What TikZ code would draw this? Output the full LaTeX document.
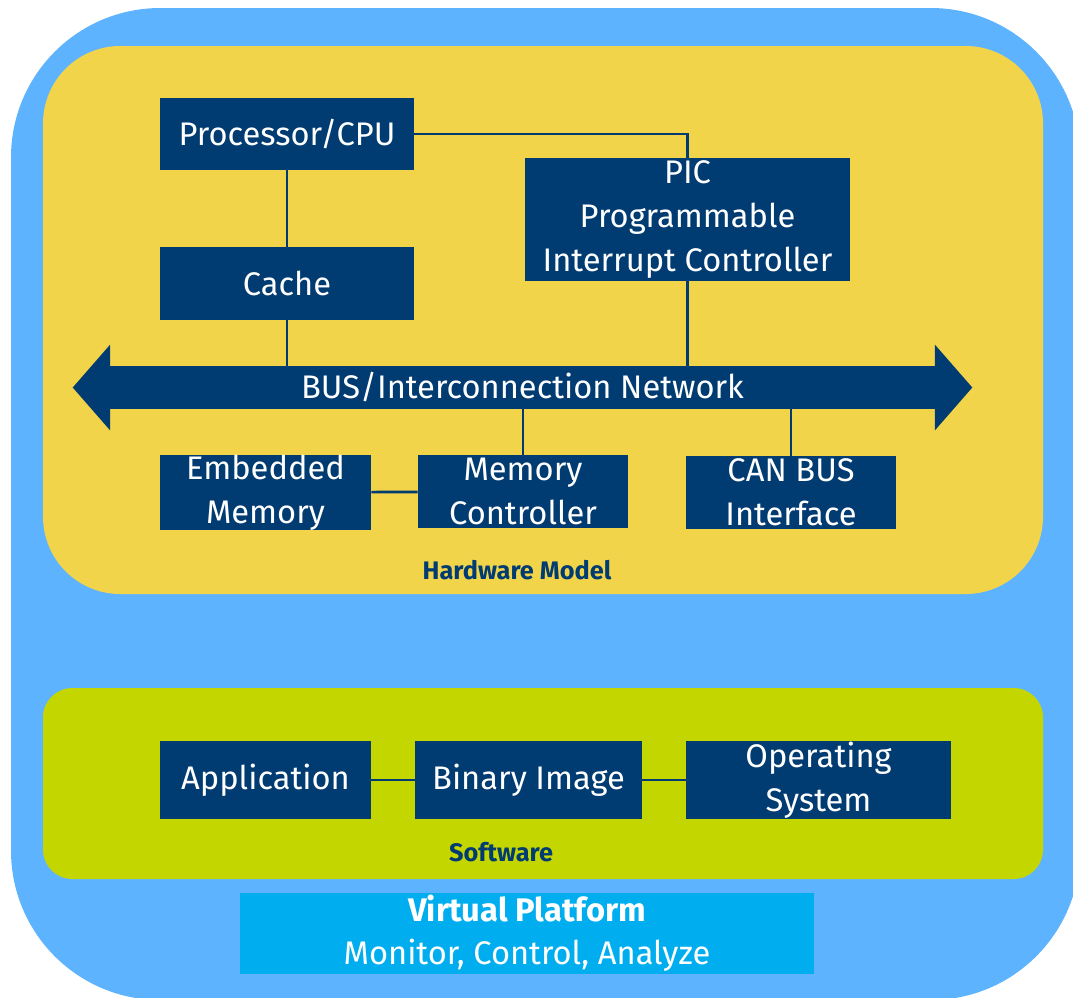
\documentclass[tikz,border=0pt]{standalone}
\usepackage{fontspec}
\setmainfont{Fira Sans}
\usepackage{xcolor}
\definecolor{cSky}{HTML}{5EB3FF}
\definecolor{cHw}{HTML}{F2D44B}
\definecolor{cSw}{HTML}{C4D600}
\definecolor{cVp}{HTML}{00AEEF}
\definecolor{cBox}{HTML}{003B71}
\usetikzlibrary{positioning,calc}
\tikzset{
  hw-box/.style={fill=cBox,text=white,align=center,inner sep=0pt,
    font=\fontsize{24.5}{33}\selectfont},
  vp-box/.style={fill=cVp,text=white,align=center,inner sep=0pt,
    font=\fontsize{24.5}{32}\selectfont},
  link/.style={draw=cBox,line width=2pt},
  layer-label/.style={text=cBox,font=\bfseries\fontsize{19}{22}\selectfont},
}
\begin{document}
\begin{tikzpicture}[x=0.75pt,y=-0.75pt]
  \useasboundingbox (0,0) rectangle (1073,997);
  \clip (0,0) rectangle (1073,997);
  % layers
  \fill[cSky,rounded corners=112pt] (11,8) rectangle (1080,1000);
  \fill[cHw,rounded corners=58pt] (43,46) rectangle (1043,594);
  \fill[cSw,rounded corners=22pt] (43,688) rectangle (1043,879);

  % hardware
  \node[hw-box,minimum width=190.5pt,minimum height=54pt] (cpu) at (287,134) {Processor/CPU};
  \node[hw-box,minimum width=190.5pt,minimum height=54.75pt] (cache) at (287,283.5) {Cache};
  \node[hw-box,minimum width=243.75pt,minimum height=92.25pt] (pic) at (687.5,219.5)
    {PIC\\Programmable\\Interrupt Controller};
  \node[hw-box,minimum width=618.75pt,minimum height=32.25pt] (bus) at (522.5,387.5)
    {BUS/Interconnection Network};
  \fill[cBox] ($(bus.west)+(0.5,-43)$) -- ($(bus.west)+(-37,0)$) -- ($(bus.west)+(0.5,43)$) -- cycle;
  \fill[cBox] ($(bus.east)+(-0.5,-43)$) -- ($(bus.east)+(37,0)$) -- ($(bus.east)+(-0.5,43)$) -- cycle;
  \node[hw-box,minimum width=158.25pt,minimum height=54.75pt] (emb) at (265.5,492.5) {Embedded\\Memory};
  \node[hw-box,minimum width=157.5pt,minimum height=54.75pt] (memctl) at (523,491.5) {Memory\\Controller};
  \node[hw-box,minimum width=157.5pt,minimum height=54.75pt] (can) at (791,492.5) {CAN BUS\\Interface};
  \node[layer-label] (hwlabel) at (517,570) {Hardware Model};

  \draw[link] (cpu) -- (cache);
  \draw[link] (cache) -- (cache.south |- bus.north);
  \draw[link] (cpu.east) -| (pic.north);
  \draw[link] (pic) -- (pic.south |- bus.north);
  \draw[link] (memctl) -- (memctl.north |- bus.south);
  \draw[link] (can) -- (can.north |- bus.south);
  \draw[link] (emb) -- (memctl);

  % software
  \node[hw-box,minimum width=158.25pt,minimum height=58.5pt] (app) at (265.5,780) {Application};
  \node[hw-box,minimum width=170.25pt,minimum height=58.5pt] (bin) at (528.5,780) {Binary Image};
  \node[hw-box,minimum width=198.75pt,minimum height=58.5pt] (os) at (818.5,780) {Operating\\System};
  \node[layer-label] (swlabel) at (501,852) {Software};
  \draw[link] (app) -- (bin) -- (os);

  % platform
  \node[vp-box,minimum width=430.5pt,minimum height=60.75pt] (vp) at (527,933.5)
    {\textbf{Virtual Platform}\\Monitor, Control, Analyze};
\end{tikzpicture}
\end{document}
